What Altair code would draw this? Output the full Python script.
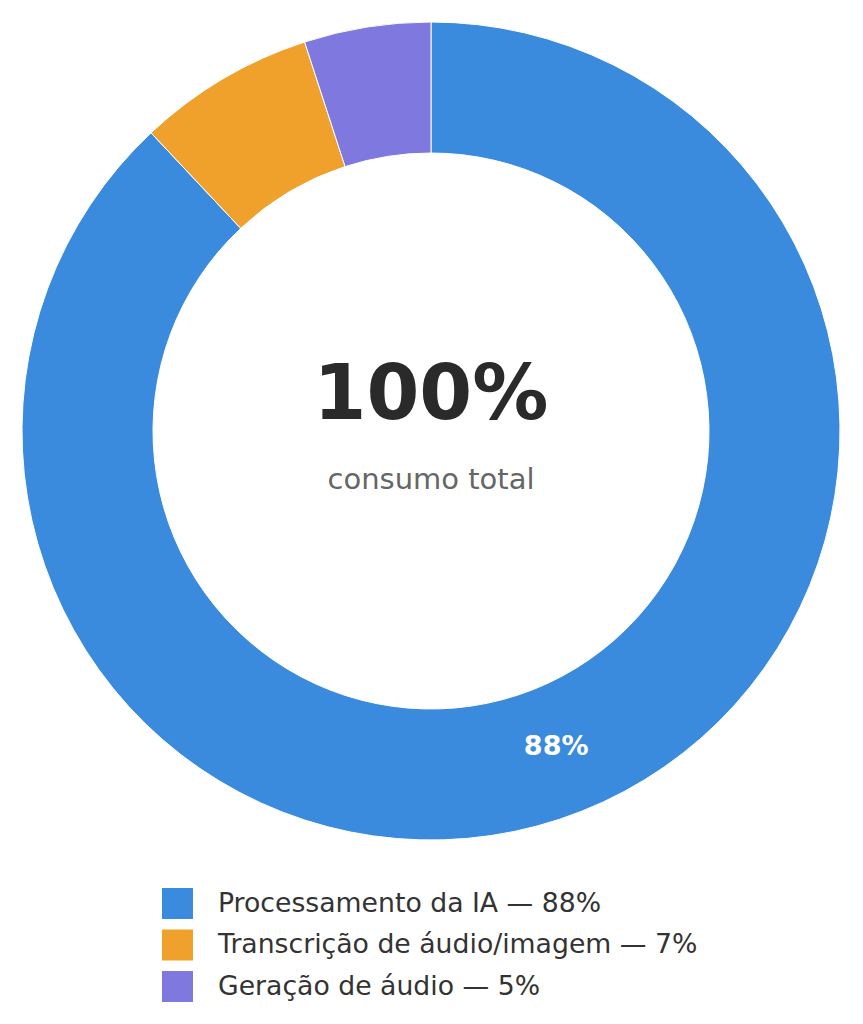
import altair as alt
import pandas as pd

categories = ["Processamento da IA", "Transcrição de áudio/imagem", "Geração de áudio"]
shares = [88, 7, 5]
colors = ["#3a8bde", "#f0a12b", "#7f78de"]

df = pd.DataFrame({"cat": categories, "share": shares, "color": colors})
df["order"] = range(len(df))
df["legend"] = df["cat"] + " — " + df["share"].astype(str) + "%"
df["pct"] = [f"{s}%" if s >= 10 else "" for s in df["share"]]

size = 846
outer_r = 409
inner_r = 278

base = alt.Chart(df).encode(
    theta=alt.Theta("share:Q", stack=True),
    order=alt.Order("order:Q", sort="ascending"),
)

arcs = base.mark_arc(
    outerRadius=outer_r, innerRadius=inner_r, stroke="white", strokeWidth=1
).encode(
    color=alt.Color(
        "legend:N",
        title=None,
        sort=df["legend"].to_list(),
        scale=alt.Scale(domain=df["legend"].to_list(), range=colors),
        legend=alt.Legend(
            orient="none",
            legendX=154,
            legendY=880,
            symbolType="square",
            symbolSize=961,
            symbolStrokeWidth=0,
            labelFontSize=26.7,
            labelColor="#333333",
            labelFont="DejaVu Sans",
            labelLimit=0,
            labelOffset=25,
            rowPadding=10.5,
        ),
    )
)

pct_text = base.mark_text(
    radius=340,
    fontSize=27,
    fontWeight="bold",
    color="white",
    font="DejaVu Sans",
).encode(text="pct:N")

center = pd.DataFrame({"t": ["100%", "consumo total"]})
big = alt.Chart(center.iloc[[0]]).mark_text(
    fontSize=76, fontWeight="bold", color="#2a2a2a", font="DejaVu Sans", baseline="middle"
).encode(x=alt.value(size / 2), y=alt.value(388), text="t:N")
small = alt.Chart(center.iloc[[1]]).mark_text(
    fontSize=29, color="#666666", font="DejaVu Sans", baseline="middle"
).encode(x=alt.value(size / 2), y=alt.value(472), text="t:N")

chart = (
    alt.layer(arcs, pct_text, big, small)
    .properties(width=size, height=size, padding=0)
    .configure_view(strokeWidth=0)
)
chart.save("out.html", embed_options={"renderer": "svg", "actions": False})
